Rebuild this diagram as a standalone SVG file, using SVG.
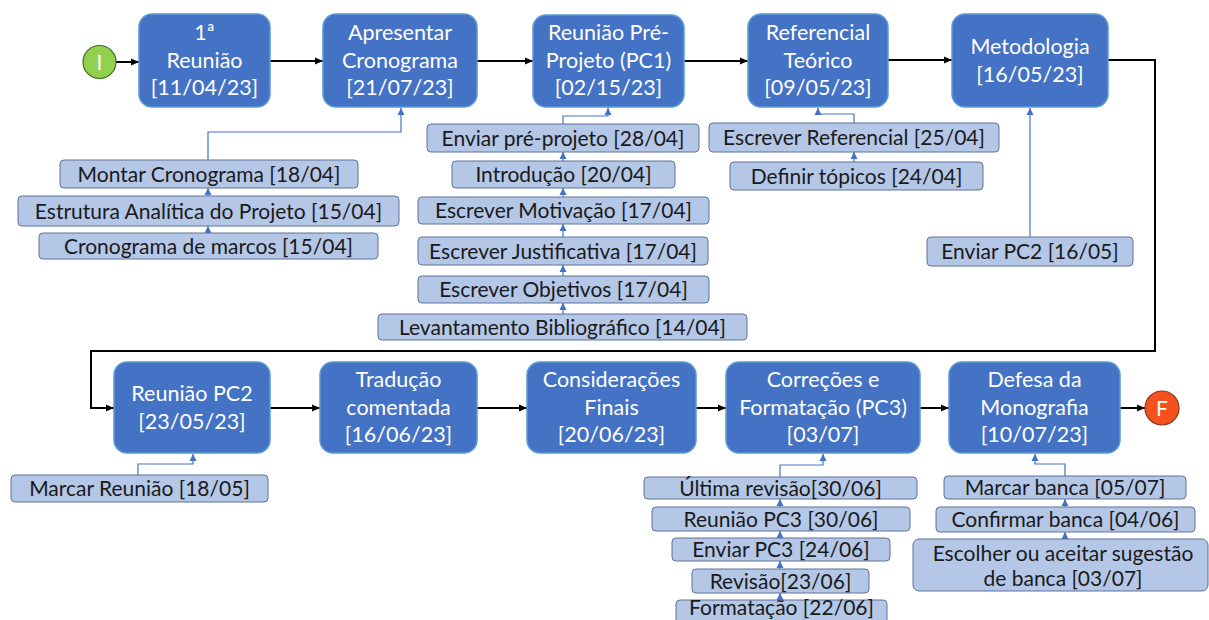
<svg xmlns="http://www.w3.org/2000/svg" width="1209" height="620" viewBox="0 0 1209 620">
<style>
.main rect{fill:#4472c4;stroke:#5b9bd5;stroke-width:1.5}
.main text{fill:#ffffff;font-family:Lato,"Liberation Sans",sans-serif;font-size:21.5px;text-anchor:middle}
.task rect{fill:#b4c7e7;stroke:#5f7398;stroke-width:1}
.task text{fill:#1a1a1a;font-family:Lato,"Liberation Sans",sans-serif;font-size:21px;text-anchor:middle}
.flow{fill:none;stroke:#000;stroke-width:2;marker-end:url(#ah)}
.sub{fill:none;stroke:#4472c4;stroke-width:1.2;marker-end:url(#ab)}
.circ text{fill:#fff;font-family:Lato,"Liberation Sans",sans-serif;font-size:21px;text-anchor:middle}
</style>
<defs>
<marker id="ah" markerUnits="userSpaceOnUse" markerWidth="10" markerHeight="10" refX="9" refY="5" orient="auto"><path d="M1,1.5 L9,5 L1,8.5 Z" fill="#000"/></marker>
<marker id="ab" markerUnits="userSpaceOnUse" markerWidth="10" markerHeight="10" refX="8" refY="5" orient="auto"><path d="M1,1.5 L8,5 L1,8.5 Z" fill="#4472c4"/></marker>
</defs>
<rect width="1209" height="620" fill="#fff"/>

<g id="connectors">
<path class="flow" d="M116,62 H139"/>
<path class="flow" d="M270,61 H323"/>
<path class="flow" d="M477,61 H533"/>
<path class="flow" d="M684,61 H748"/>
<path class="flow" d="M888,60 H952"/>
<path class="flow" d="M1108,60 H1155 V351 H91 V408 H114"/>
<path class="flow" d="M270,408 H320"/>
<path class="flow" d="M477,408 H527"/>
<path class="flow" d="M696,408 H726"/>
<path class="flow" d="M920,408 H949"/>
<path class="flow" d="M1120,408 H1145"/>

<path class="sub" d="M208,160 V132 H401 V108"/>
<path class="sub" d="M563,124 V116 H608 V108"/>
<path class="sub" d="M854,123 V114 H818 V108"/>
<path class="sub" d="M1030,237 V108"/>
<path class="sub" d="M138,475 V464 H193 V454"/>
<path class="sub" d="M780,477 V465 H823 V454"/>
<path class="sub" d="M1065,476 V464 H1035 V454"/>

<path class="sub" d="M208,197 V188"/>
<path class="sub" d="M208,234 V226"/>
<path class="sub" d="M563,162 V152"/>
<path class="sub" d="M563,198 V188"/>
<path class="sub" d="M563,238 V224"/>
<path class="sub" d="M563,277 V265"/>
<path class="sub" d="M563,315 V303"/>
<path class="sub" d="M854,163 V152"/>
<path class="sub" d="M780,508 V499"/>
<path class="sub" d="M780,539 V531"/>
<path class="sub" d="M780,570 V561"/>
<path class="sub" d="M780,601 V593"/>
<path class="sub" d="M1065,508 V499"/>
<path class="sub" d="M1065,540 V532"/>
</g>

<g id="start" class="circ"><circle cx="99.5" cy="62" r="16.5" fill="#92d050" stroke="#3f6b22" stroke-width="1.2"/><text x="99.5" y="69.5">I</text></g>
<g id="end" class="circ"><circle cx="1162" cy="408" r="17" fill="#f4511e" stroke="#8a3a1e" stroke-width="1.2"/><text x="1162" y="415.5">F</text></g>

<g id="n1" class="main"><rect x="139" y="14" width="131" height="93" rx="13"/><text x="204.5" y="40">1ª</text><text x="204.5" y="67.5">Reunião</text><text x="204.5" y="95">[11/04/23]</text></g>
<g id="n2" class="main"><rect x="323" y="14" width="154" height="93" rx="13"/><text x="400" y="40">Apresentar</text><text x="400" y="67.5">Cronograma</text><text x="400" y="95">[21/07/23]</text></g>
<g id="n3" class="main"><rect x="533" y="15" width="151" height="92" rx="13"/><text x="608.5" y="40">Reunião Pré-</text><text x="608.5" y="67.5">Projeto (PC1)</text><text x="608.5" y="95">[02/15/23]</text></g>
<g id="n4" class="main"><rect x="748" y="14" width="140" height="93" rx="13"/><text x="818" y="40">Referencial</text><text x="818" y="67.5">Teórico</text><text x="818" y="95">[09/05/23]</text></g>
<g id="n5" class="main"><rect x="952" y="14" width="156" height="93" rx="13"/><text x="1030" y="54">Metodologia</text><text x="1030" y="81.5">[16/05/23]</text></g>

<g id="n6" class="main"><rect x="114" y="362" width="156" height="91" rx="13"/><text x="192" y="401">Reunião PC2</text><text x="192" y="428.5">[23/05/23]</text></g>
<g id="n7" class="main"><rect x="320" y="362" width="157" height="91" rx="13"/><text x="398.5" y="387">Tradução</text><text x="398.5" y="414.5">comentada</text><text x="398.5" y="442">[16/06/23]</text></g>
<g id="n8" class="main"><rect x="527" y="362" width="169" height="91" rx="13"/><text x="611.5" y="387">Considerações</text><text x="611.5" y="414.5">Finais</text><text x="611.5" y="442">[20/06/23]</text></g>
<g id="n9" class="main"><rect x="726" y="362" width="194" height="91" rx="13"/><text x="823" y="387">Correções e</text><text x="823" y="414.5">Formatação (PC3)</text><text x="823" y="442">[03/07]</text></g>
<g id="n10" class="main"><rect x="949" y="362" width="171" height="91" rx="13"/><text x="1034.5" y="387">Defesa da</text><text x="1034.5" y="414.5">Monografia</text><text x="1034.5" y="442">[10/07/23]</text></g>

<g id="t1" class="task"><rect x="60" y="160" width="298" height="28" rx="4"/><text x="209" y="181.5">Montar Cronograma [18/04]</text></g>
<g id="t2" class="task"><rect x="18" y="196" width="381" height="30" rx="4"/><text x="208.5" y="218.5">Estrutura Analítica do Projeto [15/04]</text></g>
<g id="t3" class="task"><rect x="39" y="233" width="339" height="26" rx="4"/><text x="208.5" y="253.5">Cronograma de marcos [15/04]</text></g>
<g id="t4" class="task"><rect x="427" y="124" width="272" height="28" rx="4"/><text x="563" y="145.5">Enviar pré-projeto [28/04]</text></g>
<g id="t5" class="task"><rect x="452" y="161" width="223" height="27" rx="4"/><text x="563.5" y="182">Introdução [20/04]</text></g>
<g id="t6" class="task"><rect x="418" y="197" width="291" height="27" rx="4"/><text x="563.5" y="218">Escrever Motivação [17/04]</text></g>
<g id="t7" class="task"><rect x="418" y="237" width="290" height="28" rx="4"/><text x="563" y="258.5">Escrever Justificativa [17/04]</text></g>
<g id="t8" class="task"><rect x="418" y="276" width="291" height="27" rx="4"/><text x="563.5" y="297">Escrever Objetivos [17/04]</text></g>
<g id="t9" class="task"><rect x="378" y="314" width="369" height="26" rx="4"/><text x="562.5" y="334.5">Levantamento Bibliográfico [14/04]</text></g>
<g id="t10" class="task"><rect x="709" y="123" width="290" height="29" rx="4"/><text x="854" y="145">Escrever Referencial [25/04]</text></g>
<g id="t11" class="task"><rect x="730" y="162" width="253" height="28" rx="4"/><text x="856.5" y="183.5">Definir tópicos [24/04]</text></g>
<g id="t12" class="task"><rect x="927" y="237" width="206" height="29" rx="4"/><text x="1030" y="259">Enviar PC2 [16/05]</text></g>
<g id="t13" class="task"><rect x="11" y="475" width="257" height="27" rx="4"/><text x="139.5" y="496">Marcar Reunião [18/05]</text></g>
<g id="t14" class="task"><rect x="644" y="477" width="273" height="22" rx="4"/><text x="780.5" y="495.5">Última revisão[30/06]</text></g>
<g id="t15" class="task"><rect x="652" y="507" width="258" height="24" rx="4"/><text x="781" y="526.5">Reunião PC3 [30/06]</text></g>
<g id="t16" class="task"><rect x="672" y="538" width="218" height="23" rx="4"/><text x="781" y="557">Enviar PC3 [24/06]</text></g>
<g id="t17" class="task"><rect x="692" y="569" width="177" height="24" rx="4"/><text x="780.5" y="588.5">Revisão[23/06]</text></g>
<g id="t18" class="task"><rect x="676" y="600" width="211" height="30" rx="4"/><text x="781.5" y="615">Formatação [22/06]</text></g>
<g id="t19" class="task"><rect x="944" y="476" width="242" height="23" rx="4"/><text x="1065" y="495">Marcar banca [05/07]</text></g>
<g id="t20" class="task"><rect x="936" y="507" width="259" height="25" rx="4"/><text x="1065.5" y="527">Confirmar banca [04/06]</text></g>
<g id="t21" class="task"><rect x="913" y="539" width="295" height="52" rx="6"/><text x="1063" y="560.5">Escolher ou aceitar sugestão</text><text x="1063" y="585.5">de banca [03/07]</text></g>
</svg>
